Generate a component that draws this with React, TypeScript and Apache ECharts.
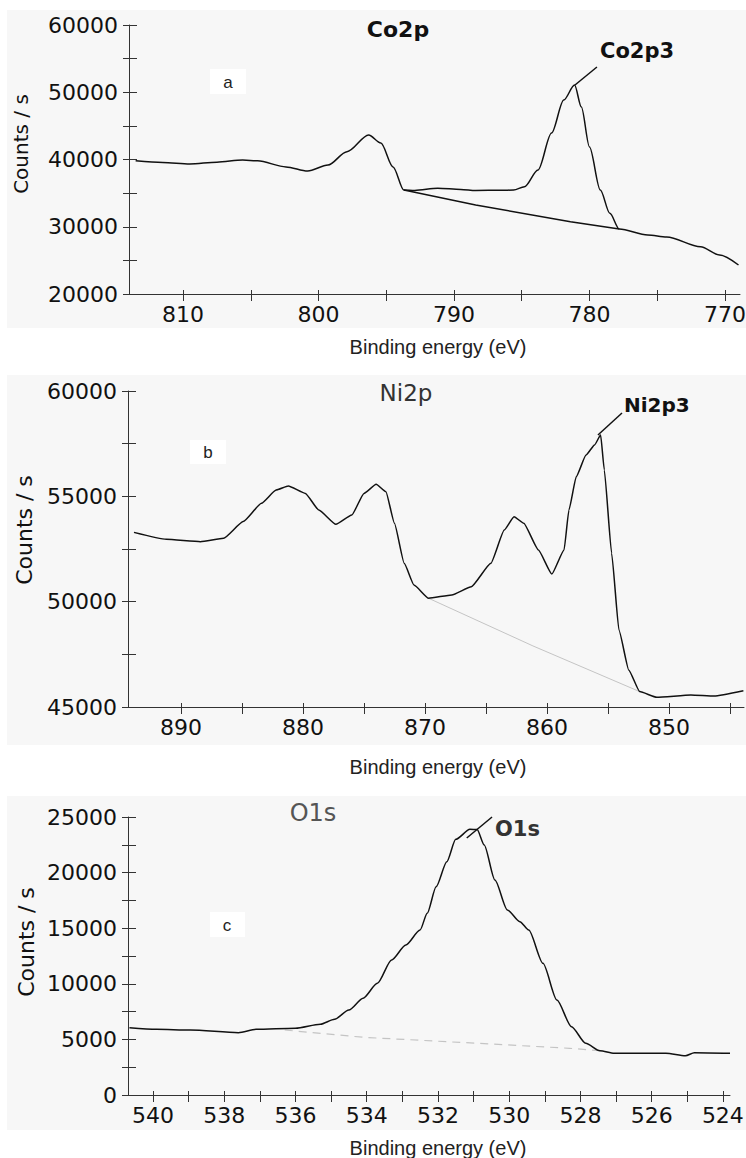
import { useEffect, useRef } from 'react';
import * as echarts from 'echarts';

// ---------- Panel a: Co2p ----------
const coEnergy = [813.5, 811.5, 809.5, 807.5, 805.6, 804.5, 802.4, 800.8, 799.3, 797.9, 796.3, 795.4, 794.5, 793.7, 792.9, 791.2, 789.5, 788.4, 786.5, 785.6, 784.8, 783.8, 782.8, 781.9, 781.1, 780.6, 780.0, 779.2, 778.5, 777.8, 775.7, 774.3, 771.8, 770.4, 769.0];
const coCounts = [39800, 39550, 39330, 39600, 39925, 39800, 38900, 38290, 39180, 41160, 43640, 42450, 38900, 35460, 35400, 35720, 35550, 35400, 35420, 35460, 35960, 38440, 43940, 48850, 51080, 47800, 41860, 35460, 32000, 29660, 28770, 28480, 27030, 25800, 24310];
const coBgEnergy = [793.7, 788.4, 781.4, 777.8];
const coBgCounts = [35460, 33230, 30750, 29660];
const coLeader = [[781.07, 51080], [779.45, 53755]];
const coXTicks = [810, 805, 800, 795, 790, 785, 780, 775, 770];
const coXLabels = [810, 800, 790, 780, 770];

// ---------- Panel b: Ni2p ----------
const niEnergy = [893.85, 891.2, 888.4, 886.5, 884.9, 883.4, 882.2, 881.2, 879.8, 878.7, 877.3, 876.0, 875.0, 874.0, 873.2, 872.5, 871.7, 870.9, 869.7, 867.8, 866.2, 864.6, 863.5, 862.7, 861.9, 860.7, 859.6, 858.6, 858.2, 857.6, 856.8, 856.1, 855.6, 855.3, 854.7, 854.1, 853.3, 852.4, 851.0, 848.2, 846.3, 843.9];
const niCounts = [53290, 52960, 52850, 53010, 53800, 54670, 55300, 55490, 55140, 54350, 53670, 54110, 55140, 55570, 55220, 53720, 51820, 50790, 50160, 50320, 50710, 51820, 53400, 54030, 53720, 52450, 51310, 52450, 54350, 55930, 56960, 57440, 57910, 56250, 52300, 48650, 46760, 45730, 45460, 45570, 45520, 45770];
const niBgEnergy = [869.7, 861.15, 852.4];
const niBgCounts = [50160, 47900, 45730];
const niLeader = [[855.82, 57911], [853.85, 58956]];
const niXTicks = [890, 885, 880, 875, 870, 865, 860, 855, 850, 845];
const niXLabels = [890, 880, 870, 860, 850];

// ---------- Panel c: O1s ----------
const oEnergy = [540.66, 539.9, 538.95, 537.6, 537.1, 536.0, 535.3, 534.9, 534.5, 534.1, 533.7, 533.3, 532.9, 532.5, 532.3, 532.05, 531.75, 531.5, 531.1, 530.9, 530.7, 530.4, 530.05, 529.7, 529.45, 529.05, 528.66, 528.25, 527.85, 527.45, 527.05, 525.6, 525.05, 524.8, 523.8];
const oCounts = [6050, 5905, 5845, 5600, 5905, 6000, 6360, 6810, 7640, 8700, 10040, 12140, 13490, 14840, 16340, 18730, 20980, 22990, 23890, 23870, 22480, 19330, 16640, 15590, 14840, 11840, 8540, 6140, 4650, 3980, 3750, 3750, 3530, 3800, 3750];
const oBgEnergy = [536.3, 534.1, 530.9, 528.3, 527.45];
const oBgCounts = [5845, 5190, 4650, 4200, 3980];
const oLeader = [[531.19, 23112], [530.48, 25000]];
const oXTicks = [540, 539, 538, 537, 536, 535, 534, 533, 532, 531, 530, 529, 528, 527, 526, 525, 524];
const oXLabels = [540, 538, 536, 534, 532, 530, 528, 526, 524];

const NUM_FONT = '"DejaVu Sans", "Liberation Sans", sans-serif';
const TXT_FONT = '"Liberation Sans", Arial, sans-serif';
const AXIS_COLOR = '#333';
const LINE_COLOR = '#111';

const zip = (xs: number[], ys: number[]) => xs.map((x, i) => [x, ys[i]]);

const panels = [
  {
    grid: { left: 129, right: 6, top: 25, height: 269 },
    xMin: 768.89, xMax: 813.99, xTicks: coXTicks, xLabels: coXLabels,
    yMin: 20000, yMax: 60000, yInterval: 5000, yLabelStep: 10000,
  },
  {
    grid: { left: 128, right: 2, top: 391, height: 316 },
    xMin: 843.85, xMax: 894.34, xTicks: niXTicks, xLabels: niXLabels,
    yMin: 45000, yMax: 60000, yInterval: 2500, yLabelStep: 5000,
  },
  {
    grid: { left: 128, right: 16, top: 817, height: 278 },
    xMin: 523.8, xMax: 540.7, xTicks: oXTicks, xLabels: oXLabels,
    yMin: 0, yMax: 25000, yInterval: 2500, yLabelStep: 5000,
  },
];

function buildOption() {
  const grid: any[] = [];
  const xAxis: any[] = [];
  const yAxis: any[] = [];
  panels.forEach((p, i) => {
    grid.push({ ...p.grid, containLabel: false, outerBoundsMode: 'none' });
    xAxis.push({
      gridIndex: i, type: 'value', position: 'bottom', inverse: true,
      min: p.xMin, max: p.xMax,
      axisLine: { show: true, onZero: false, lineStyle: { color: AXIS_COLOR, width: 1 } },
      axisTick: { show: true, inside: false, length: 7, customValues: p.xTicks, lineStyle: { color: AXIS_COLOR, width: 1 } },
      axisLabel: { customValues: p.xLabels, margin: 9, fontSize: 22, fontFamily: NUM_FONT, color: '#111', hideOverlap: false },
      splitLine: { show: false },
    });
    xAxis.push({
      gridIndex: i, type: 'value', position: 'bottom', inverse: true,
      min: p.xMin, max: p.xMax,
      axisLine: { show: false, onZero: false },
      axisTick: { show: true, inside: true, length: 4, customValues: p.xTicks, lineStyle: { color: AXIS_COLOR, width: 1 } },
      axisLabel: { show: false },
      splitLine: { show: false },
    });
    yAxis.push({
      gridIndex: i, type: 'value', position: 'left',
      min: p.yMin, max: p.yMax, interval: p.yInterval,
      axisLine: { show: true, onZero: false, lineStyle: { color: AXIS_COLOR, width: 1 } },
      axisTick: { show: true, inside: false, length: 6, lineStyle: { color: AXIS_COLOR, width: 1 } },
      axisLabel: {
        margin: 11, fontSize: 22, fontFamily: NUM_FONT, color: '#111',
        formatter: (v: number) => (v % p.yLabelStep === 0 ? String(v) : ''),
      },
      splitLine: { show: false },
    });
    yAxis.push({
      gridIndex: i, type: 'value', position: 'left',
      min: p.yMin, max: p.yMax, interval: p.yInterval,
      axisLine: { show: false, onZero: false },
      axisTick: { show: true, inside: true, length: 8, lineStyle: { color: AXIS_COLOR, width: 1 } },
      axisLabel: { show: false },
      splitLine: { show: false },
    });
  });

  const leader = (pts: number[][]) => ({
    silent: true,
    symbol: ['none', 'none'],
    label: { show: false },
    lineStyle: { color: LINE_COLOR, width: 1.5, type: 'solid' },
    emphasis: { disabled: true },
    data: [[{ coord: pts[0] }, { coord: pts[1] }]],
  });

  const mainLine = (data: number[][], idx: number, ld: number[][], smooth: number) => ({
    type: 'line', xAxisIndex: idx * 2, yAxisIndex: idx * 2, data,
    showSymbol: false, symbol: 'none', smooth, smoothMonotone: 'x',
    lineStyle: { color: LINE_COLOR, width: 1.5 },
    markLine: leader(ld),
    z: 3,
  });

  const series: any[] = [
    mainLine(zip(coEnergy, coCounts), 0, coLeader, 0.3),
    {
      type: 'line', xAxisIndex: 0, yAxisIndex: 0, data: zip(coBgEnergy, coBgCounts),
      showSymbol: false, symbol: 'none', lineStyle: { color: LINE_COLOR, width: 1.4 },
    },
    mainLine(zip(niEnergy, niCounts), 1, niLeader, 0.15),
    {
      type: 'line', xAxisIndex: 2, yAxisIndex: 2, data: zip(niBgEnergy, niBgCounts),
      showSymbol: false, symbol: 'none', lineStyle: { color: '#c4c4c4', width: 1 }, z: 2,
    },
    mainLine(zip(oEnergy, oCounts), 2, oLeader, 0.25),
    {
      type: 'line', xAxisIndex: 4, yAxisIndex: 4, data: zip(oBgEnergy, oBgCounts),
      showSymbol: false, symbol: 'none', lineStyle: { color: '#c4c4c4', width: 1.2, type: [8, 6] }, z: 2,
    },
  ];

  const txt = (text: string, x: number, y: number, size: number, opts: any = {}) => ({
    type: 'text', x, y, silent: true, z: 10, rotation: opts.rotation || 0,
    style: {
      text, fill: opts.color || '#111', fontSize: size,
      fontFamily: opts.family || TXT_FONT, fontWeight: opts.weight || 'normal',
      textAlign: opts.align || 'center', textVerticalAlign: 'middle',
    },
  });

  const bgRect = (x: number, y: number, w: number, h: number, fill: string, z = -10) => ({
    type: 'rect', silent: true, z, shape: { x, y, width: w, height: h }, style: { fill },
  });

  const graphic: any[] = [
    bgRect(7, 10, 739, 318, '#f7f7f7'),
    bgRect(7, 375, 739, 370, '#f7f7f7'),
    bgRect(7, 796, 739, 334, '#f7f7f7'),
    bgRect(210, 69, 36, 25, '#ffffff', 5),
    bgRect(190, 440, 36, 24, '#ffffff', 5),
    bgRect(210, 912, 35, 25, '#ffffff', 5),
    txt('a', 228, 82, 17, { color: '#222' }),
    txt('b', 208, 452, 17, { color: '#222' }),
    txt('c', 227, 925, 17, { color: '#222' }),
    txt('Co2p', 398, 29, 22, { family: NUM_FONT, weight: 'bold' }),
    txt('Co2p3', 600, 51, 21, { family: NUM_FONT, weight: 'bold', align: 'left' }),
    txt('Ni2p', 406, 393, 23, { family: NUM_FONT, color: '#333' }),
    txt('Ni2p3', 624, 405, 20, { family: NUM_FONT, weight: 'bold', align: 'left' }),
    txt('O1s', 313, 813, 24, { family: NUM_FONT, color: '#555' }),
    txt('O1s', 495, 829, 21, { family: NUM_FONT, weight: 'bold', color: '#333', align: 'left' }),
    txt('Counts / s', 21, 144, 20, { family: NUM_FONT, rotation: Math.PI / 2 }),
    txt('Counts / s', 24, 530, 22, { family: NUM_FONT, rotation: Math.PI / 2 }),
    txt('Counts / s', 26, 942, 22, { family: NUM_FONT, rotation: Math.PI / 2 }),
    txt('Binding energy (eV)', 438, 347, 20, { color: '#222' }),
    txt('Binding energy (eV)', 438, 767, 20, { color: '#222' }),
    txt('Binding energy (eV)', 438, 1148, 20, { color: '#222' }),
  ];

  return {
    animation: false,
    backgroundColor: '#ffffff',
    grid, xAxis, yAxis, series, graphic,
  };
}

export default function App() {
  const ref = useRef<HTMLDivElement>(null);
  useEffect(() => {
    document.body.style.margin = '0';
    const chart = echarts.init(ref.current!, null, { renderer: 'svg' });
    chart.setOption(buildOption() as any);
    return () => chart.dispose();
  }, []);
  return <div ref={ref} style={{ width: 746, height: 1158 }} />;
}
